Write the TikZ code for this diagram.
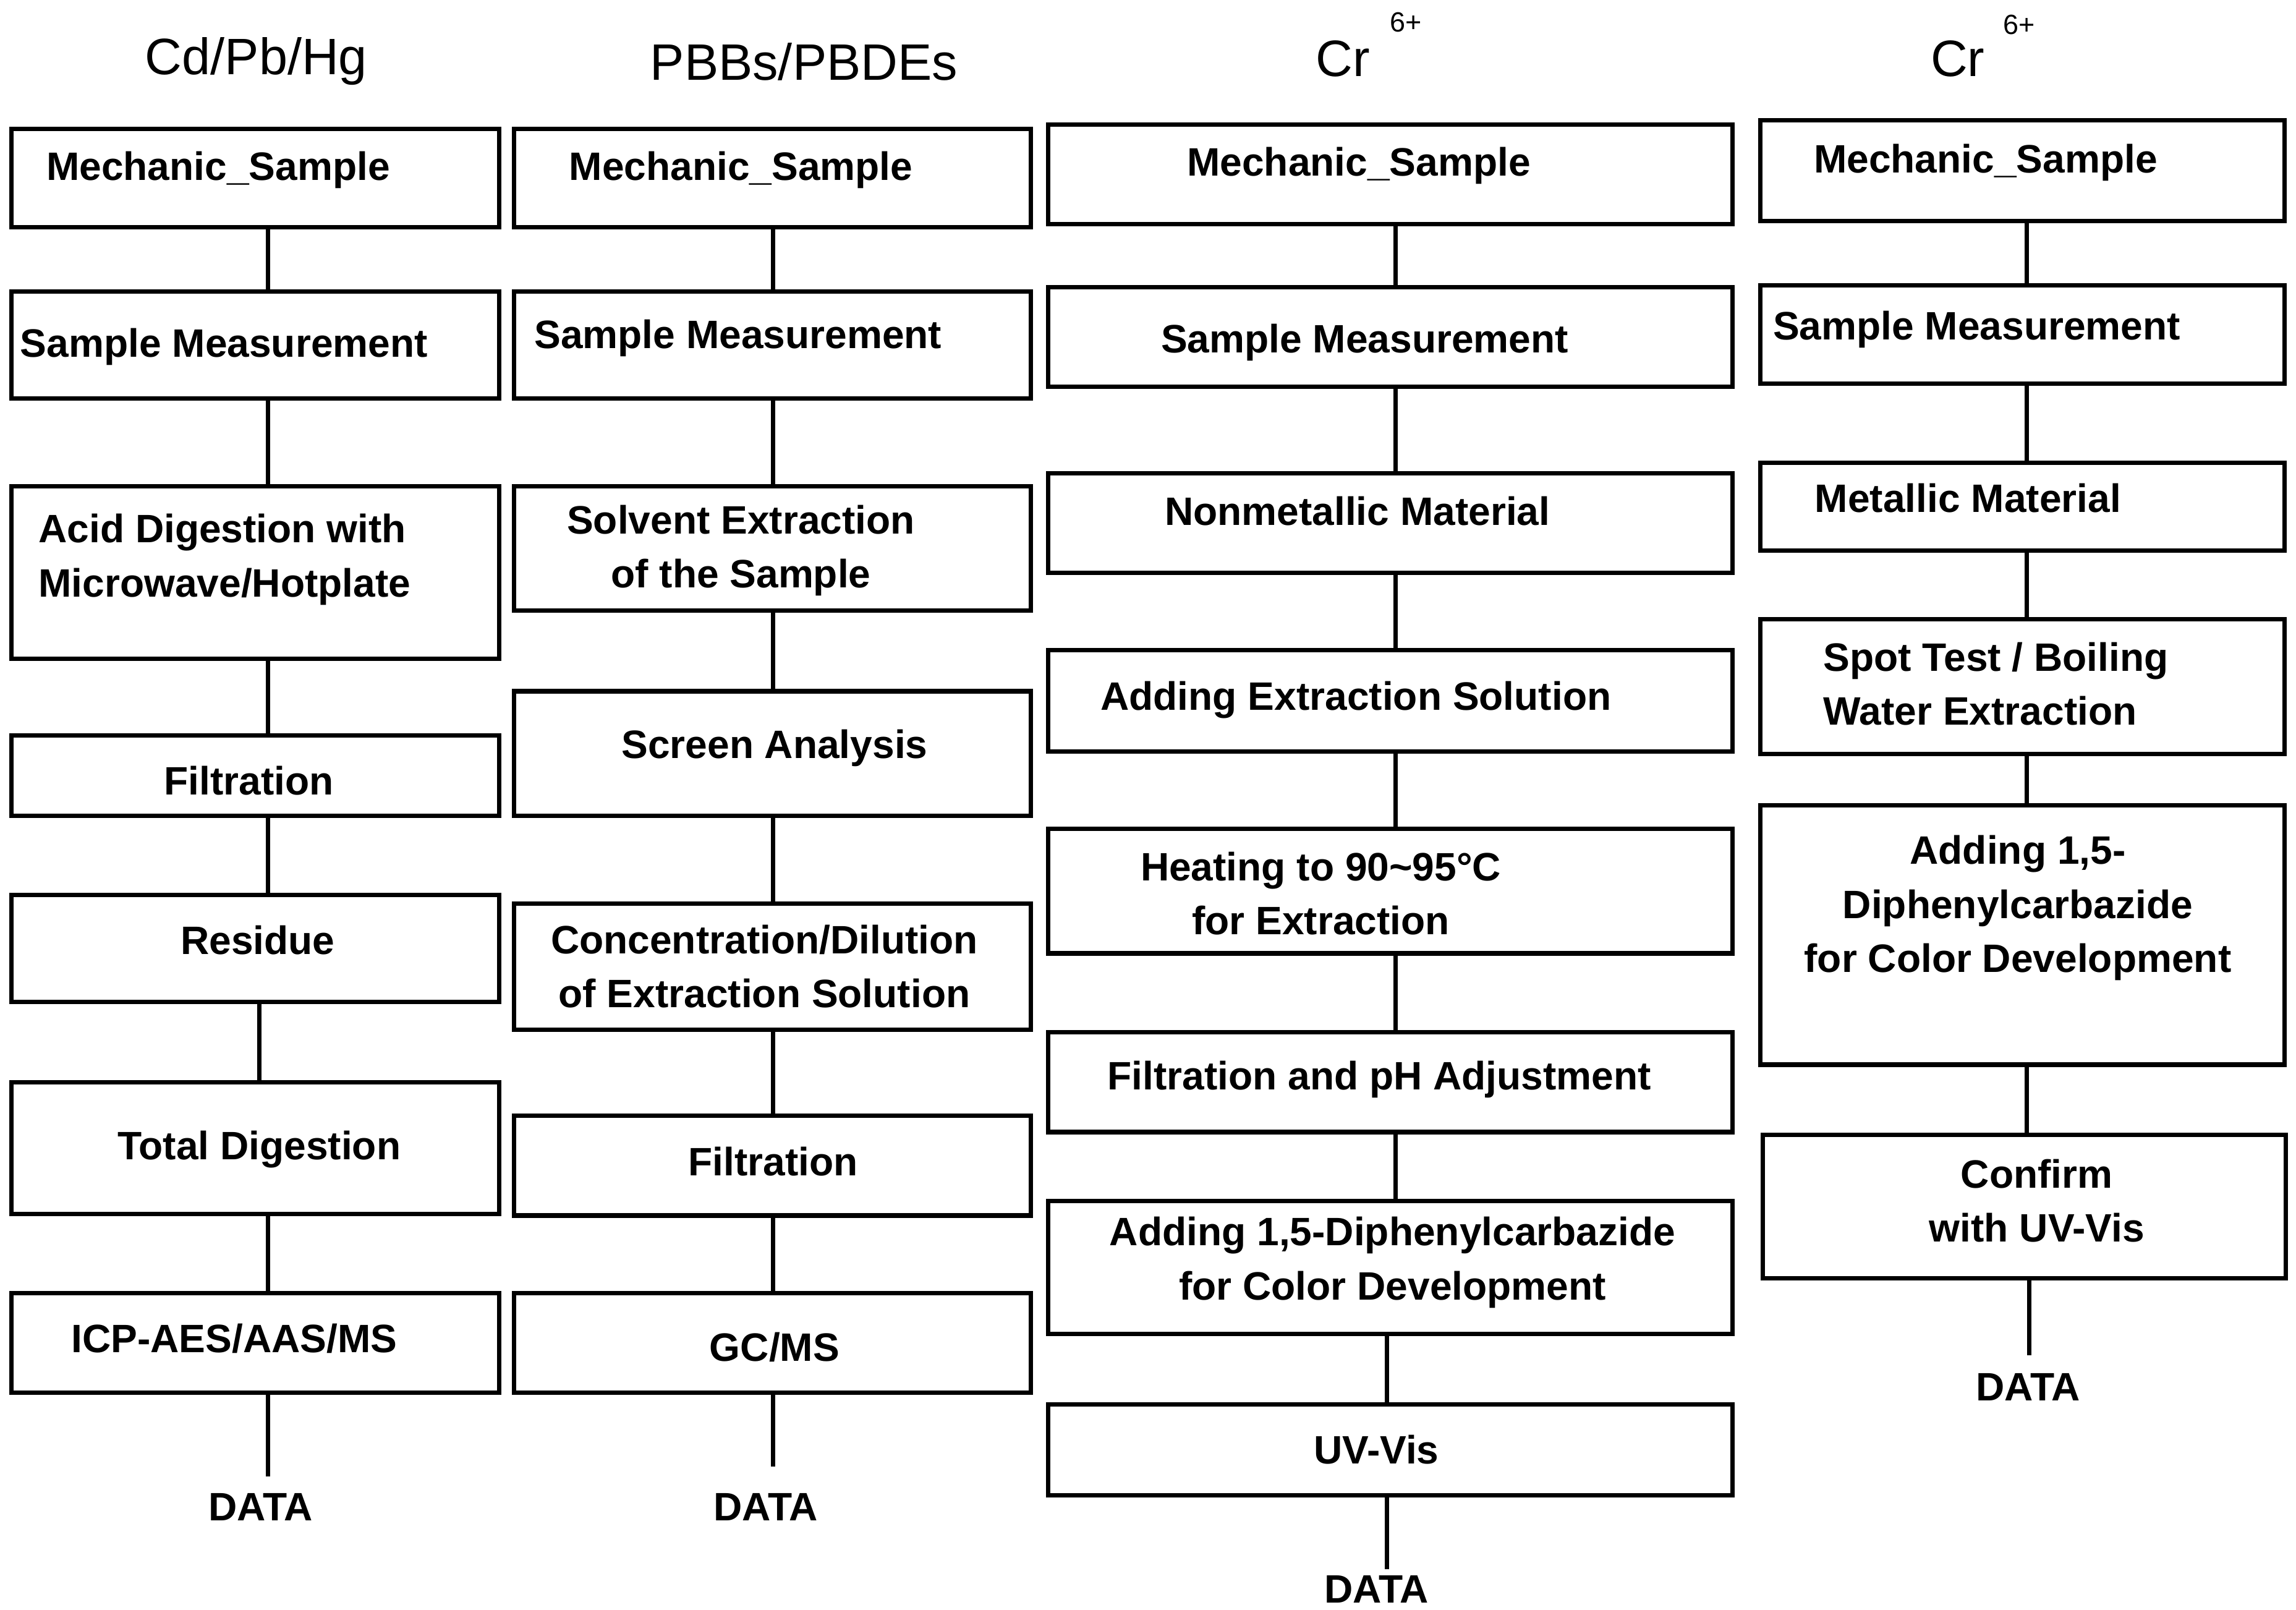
\documentclass[tikz,border=0pt]{standalone}
\usepackage{fontspec}
\setmainfont{Liberation Sans}
\usetikzlibrary{positioning}
\usetikzlibrary{fit}

\begin{document}
\begin{tikzpicture}[x=0.02cm, y=-0.02cm,
		box/.style={draw, line width=1.7pt, inner sep=0pt},
		lbl/.style={inner sep=0pt, align=center, font=\fontsize{15.4}{21}\selectfont\bfseries},
		head/.style={inner sep=0pt, font=\fontsize{19.9}{24}\selectfont},
		sup/.style={inner sep=0pt, font=\fontsize{10.8}{13}\selectfont},
		link/.style={line width=1.7pt}]
		\useasboundingbox (0,0) rectangle (1568,1099);
		% headings
		\node [head] at (175,42) (hcd) {Cd/Pb/Hg};
		\node [head] at (549,42) (hpb) {PBBs/PBDEs};
		\node [head] at (917,40) (hcra) {Cr};
		\node [sup] at (960,15) (hcrasup) {6+};
		\node [head] at (1337,40) (hcrb) {Cr};
		\node [sup] at (1379,17) (hcrbsup) {6+};
		% Cd/Pb/Hg
		\node [box, fit={(8,88) (341,155)}] (cda) {};
		\node [lbl] at (149,116) (cdatxt) {Mechanic\_Sample};
		\node [box, fit={(8,199) (341,272)}] (cdb) {};
		\node [lbl] at (153,237) (cdbtxt) {Sample Measurement};
		\node [box, fit={(8,332) (341,450)}] (cdc) {};
		\node [lbl, align=left, anchor=west] at (26,382) (cdctxt) {Acid Digestion with\\Microwave/Hotplate};
		\node [box, fit={(8,502) (341,557)}] (cdd) {};
		\node [lbl] at (170,533) (cddtxt) {Filtration};
		\node [box, fit={(8,611) (341,684)}] (cde) {};
		\node [lbl] at (176,642) (cdetxt) {Residue};
		\node [box, fit={(8,739) (341,829)}] (cdf) {};
		\node [lbl] at (177,785) (cdftxt) {Total Digestion};
		\node [box, fit={(8,883) (341,951)}] (cdg) {};
		\node [lbl] at (160,914) (cdgtxt) {ICP-AES/AAS/MS};
		\node [lbl] at (178,1029) (cddata) {DATA};
		\coordinate (kcd) at (183,0);
		\coordinate (kcdr) at (177,0);
		\draw [link] (cda.south -| kcd) -- (cdb.north -| kcd);
		\draw [link] (cdb.south -| kcd) -- (cdc.north -| kcd);
		\draw [link] (cdc.south -| kcd) -- (cdd.north -| kcd);
		\draw [link] (cdd.south -| kcd) -- (cde.north -| kcd);
		\draw [link] (cde.south -| kcdr) -- (cdf.north -| kcdr);
		\draw [link] (cdf.south -| kcd) -- (cdg.north -| kcd);
		\draw [link] (cdg.south -| kcd) -- ([yshift=0.22cm]cddata.north -| kcd);
		% PBBs/PBDEs
		\node [box, fit={(351,88) (704,155)}] (pba) {};
		\node [lbl] at (506,116) (pbatxt) {Mechanic\_Sample};
		\node [box, fit={(351,199) (704,272)}] (pbb) {};
		\node [lbl] at (504,231) (pbbtxt) {Sample Measurement};
		\node [box, fit={(351,332) (704,417)}] (pbc) {};
		\node [lbl] at (506,376) (pbctxt) {Solvent Extraction\\of the Sample};
		\node [box, fit={(351,472) (704,557)}] (pbd) {};
		\node [lbl] at (529,511) (pbdtxt) {Screen Analysis};
		\node [box, fit={(351,617) (704,703)}] (pbe) {};
		\node [lbl] at (522,660) (pbetxt) {Concentration/Dilution\\of Extraction Solution};
		\node [box, fit={(351,762) (704,830)}] (pbf) {};
		\node [lbl] at (528,793) (pbftxt) {Filtration};
		\node [box, fit={(351,883) (704,951)}] (pbg) {};
		\node [lbl] at (529,920) (pbgtxt) {GC/MS};
		\node [lbl] at (523,1029) (pbdata) {DATA};
		\coordinate (kpb) at (528,0);
		\draw [link] (pba.south -| kpb) -- (pbb.north -| kpb);
		\draw [link] (pbb.south -| kpb) -- (pbc.north -| kpb);
		\draw [link] (pbc.south -| kpb) -- (pbd.north -| kpb);
		\draw [link] (pbd.south -| kpb) -- (pbe.north -| kpb);
		\draw [link] (pbe.south -| kpb) -- (pbf.north -| kpb);
		\draw [link] (pbf.south -| kpb) -- (pbg.north -| kpb);
		\draw [link] (pbg.south -| kpb) -- ([yshift=0.36cm]pbdata.north -| kpb);
		% Cr(VI), nonmetallic
		\node [box, fit={(716,85) (1183,153)}] (nma) {};
		\node [lbl] at (928,113) (nmatxt) {Mechanic\_Sample};
		\node [box, fit={(716,196) (1183,264)}] (nmb) {};
		\node [lbl] at (932,234) (nmbtxt) {Sample Measurement};
		\node [box, fit={(716,323) (1183,391)}] (nmc) {};
		\node [lbl] at (927,349) (nmctxt) {Nonmetallic Material};
		\node [box, fit={(716,444) (1183,513)}] (nmd) {};
		\node [lbl] at (926,478) (nmdtxt) {Adding Extraction Solution};
		\node [box, fit={(716,566) (1183,651)}] (nme) {};
		\node [lbl] at (902,610) (nmetxt) {Heating to 90\textasciitilde95\textdegree C\\for Extraction};
		\node [box, fit={(716,705) (1183,773)}] (nmf) {};
		\node [lbl] at (942,737) (nmftxt) {Filtration and pH Adjustment};
		\node [box, fit={(716,820) (1183,911)}] (nmg) {};
		\node [lbl] at (951,862) (nmgtxt) {Adding 1,5-Diphenylcarbazide\\for Color Development};
		\node [box, fit={(716,959) (1183,1021)}] (nmh) {};
		\node [lbl] at (940,990) (nmhtxt) {UV-Vis};
		\node [lbl] at (940,1085) (nmdata) {DATA};
		\coordinate (knm) at (953,0);
		\coordinate (knmr) at (947,0);
		\draw [link] (nma.south -| knm) -- (nmb.north -| knm);
		\draw [link] (nmb.south -| knm) -- (nmc.north -| knm);
		\draw [link] (nmc.south -| knm) -- (nmd.north -| knm);
		\draw [link] (nmd.south -| knm) -- (nme.north -| knm);
		\draw [link] (nme.south -| knm) -- (nmf.north -| knm);
		\draw [link] (nmf.south -| knm) -- (nmg.north -| knm);
		\draw [link] (nmg.south -| knmr) -- (nmh.north -| knmr);
		\draw [link] (nmh.south -| knmr) -- ([yshift=0.08cm]nmdata.north -| knmr);
		% Cr(VI), metallic
		\node [box, fit={(1202,82) (1560,151)}] (mta) {};
		\node [lbl] at (1356,111) (mtatxt) {Mechanic\_Sample};
		\node [box, fit={(1202,195) (1560,262)}] (mtb) {};
		\node [lbl] at (1350,225) (mtbtxt) {Sample Measurement};
		\node [box, fit={(1202,316) (1560,376)}] (mtc) {};
		\node [lbl] at (1344,340) (mtctxt) {Metallic Material};
		\node [box, fit={(1202,423) (1560,515)}] (mtd) {};
		\node [lbl, align=left, anchor=west] at (1245,467) (mtdtxt) {Spot Test / Boiling\\Water Extraction};
		\node [box, fit={(1202,550) (1560,727)}] (mte) {};
		\node [lbl] at (1378,620) (mtetxt) {Adding 1,5-\\Diphenylcarbazide\\for Color Development};
		\node [box, fit={(1204,775) (1561,873)}] (mtf) {};
		\node [lbl] at (1391,820) (mtftxt) {Confirm\\with UV-Vis};
		\node [lbl] at (1385,947) (mtdata) {DATA};
		\coordinate (kmt) at (1384,0);
		\coordinate (kmtr) at (1386,0);
		\draw [link] (mta.south -| kmt) -- (mtb.north -| kmt);
		\draw [link] (mtb.south -| kmt) -- (mtc.north -| kmt);
		\draw [link] (mtc.south -| kmt) -- (mtd.north -| kmt);
		\draw [link] (mtd.south -| kmt) -- (mte.north -| kmt);
		\draw [link] (mte.south -| kmt) -- (mtf.north -| kmt);
		\draw [link] (mtf.south -| kmtr) -- ([yshift=0.24cm]mtdata.north -| kmtr);
\end{tikzpicture}
\end{document}
